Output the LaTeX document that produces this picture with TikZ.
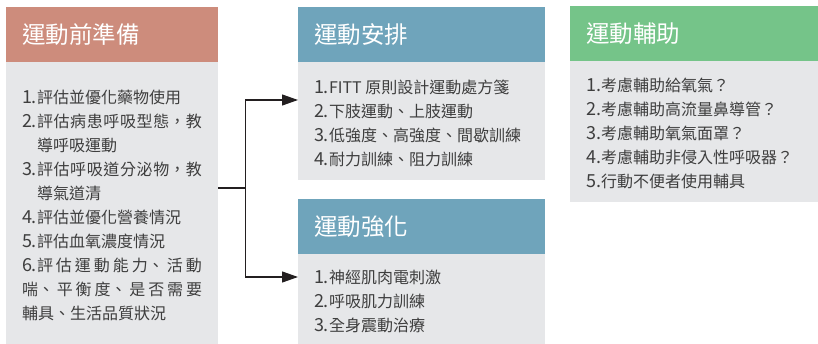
\documentclass[tikz,border=0pt]{standalone}
\usepackage{fontspec}
\setmainfont{Noto Sans CJK TC}
\usetikzlibrary{positioning,arrows.meta}
\XeTeXlinebreaklocale "zh"
\XeTeXlinebreakskip=0pt plus 3pt

\definecolor{prepcol}{RGB}{205,140,124}
\definecolor{plancol}{RGB}{111,164,187}
\definecolor{aidcol}{RGB}{117,196,137}
\definecolor{bodygray}{RGB}{230,231,233}
\definecolor{textgray}{RGB}{62,62,62}
\definecolor{linecol}{RGB}{35,31,32}

\newcommand{\itemno}[1]{\par\noindent\hangindent=15pt\hangafter=1%
  \makebox[15pt][l]{\fontsize{18}{24}\selectfont#1.}\ignorespaces}

\tikzset{
 head/.style={fill=#1,text=white,minimum height=55pt,inner xsep=16pt,outer sep=0pt,
   align=left,font=\fontsize{23.5}{28}\selectfont},
 body/.style={fill=bodygray,text=textgray,inner xsep=16pt,outer sep=0pt,
   align=justify,font=\fontsize{16}{24}\selectfont,
   execute at end node={\par\vspace*{6pt}}},
 link/.style={line width=1.2pt,draw=linecol},
 flow/.style={link,-{Triangle[length=16pt,width=11pt]}}
}

\begin{document}
\begin{tikzpicture}[x=1pt,y=-1pt]
 \useasboundingbox (0,0) rectangle (818,344);

 \node[head=prepcol,text width=180pt,anchor=north west] (prep) at (6,7) {運動前準備};
 \node[body,text width=180pt,minimum height=282pt,below=0pt of prep] (prepbody) {
  \itemno{1}評估並優化藥物使用
  \itemno{2}評估病患呼吸型態，教導呼吸運動
  \itemno{3}評估呼吸道分泌物，教導氣道清
  \itemno{4}評估並優化營養情況
  \itemno{5}評估血氧濃度情況
  \itemno{6}評估運動能力、活動喘、平衡度、是否需要輔具、生活品質狀況};

 \node[head=plancol,text width=215pt,anchor=north west] (plan) at (298,7) {運動安排};
 \node[body,text width=215pt,minimum height=118pt,below=0pt of plan] (planbody) {
  \itemno{1}FITT 原則設計運動處方箋
  \itemno{2}下肢運動、上肢運動
  \itemno{3}低強度、高強度、間歇訓練
  \itemno{4}耐力訓練、阻力訓練};

 \node[head=plancol,text width=215pt,below=19pt of planbody] (boost) {運動強化};
 \node[body,text width=215pt,minimum height=90pt,below=0pt of boost] (boostbody) {
  \itemno{1}神經肌肉電刺激
  \itemno{2}呼吸肌力訓練
  \itemno{3}全身震動治療};

 \node[head=aidcol,text width=216pt,anchor=north west] (aid) at (570,6) {運動輔助};
 \node[body,text width=216pt,minimum height=141pt,below=0pt of aid] (aidbody) {
  \itemno{1}考慮輔助給氧氣？
  \itemno{2}考慮輔助高流量鼻導管？
  \itemno{3}考慮輔助氧氣面罩？
  \itemno{4}考慮輔助非侵入性呼吸器？
  \itemno{5}行動不便者使用輔具};

 \coordinate (split) at ([xshift=27.5pt,yshift=15pt]prepbody.east);
 \draw[link] ([yshift=15pt]prepbody.east) -- (split);
 \foreach \t/\s in {planbody/21pt,boostbody/22pt}
  \draw[flow] (split) |- ([yshift=\s]\t.west);
\end{tikzpicture}
\end{document}
